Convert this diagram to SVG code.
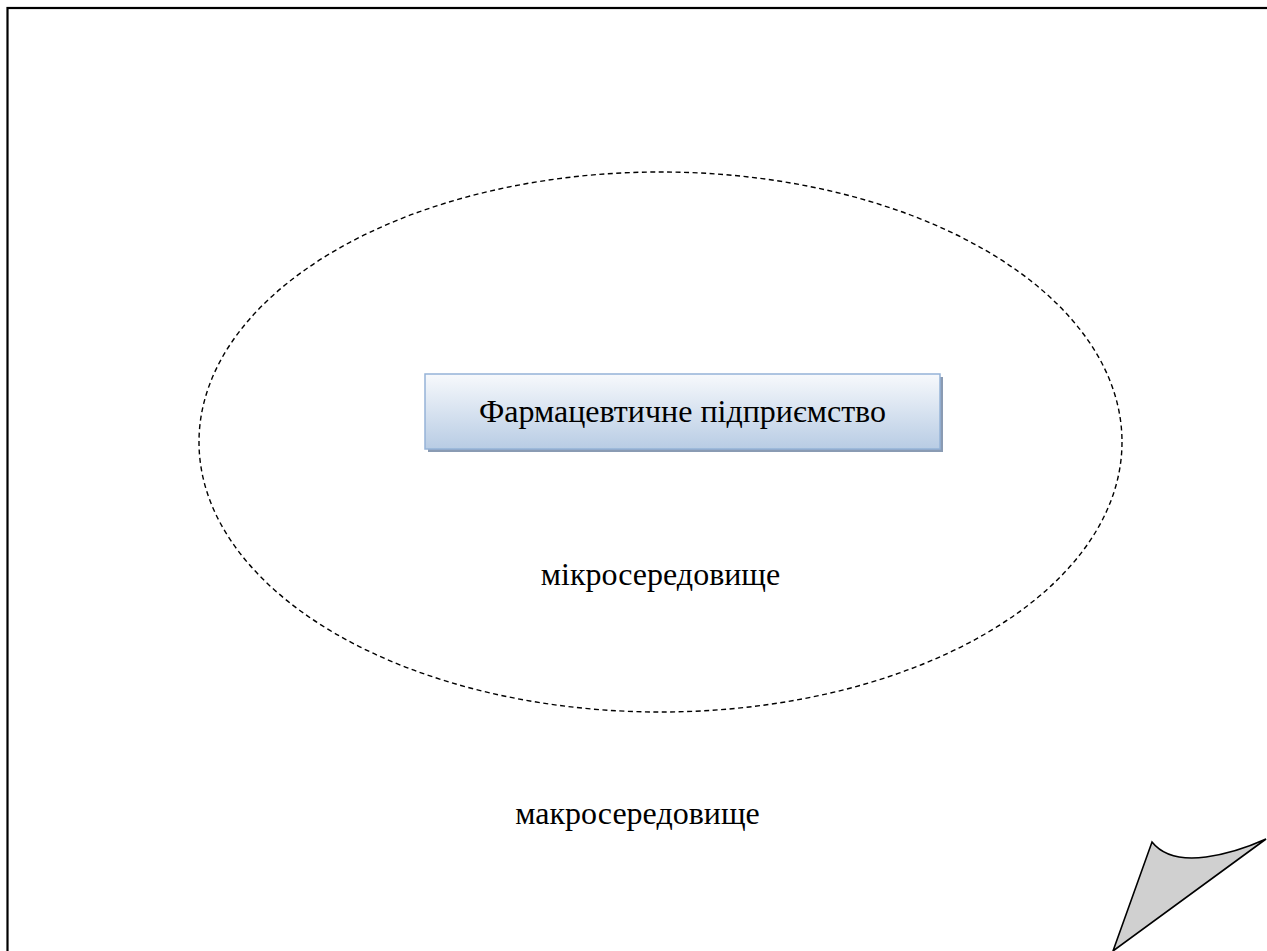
<svg xmlns="http://www.w3.org/2000/svg" width="1267" height="951" viewBox="0 0 1267 951">
  <style>
    .lbl { font-family: "Liberation Serif", "DejaVu Serif", "Times New Roman", serif; fill: #000; text-anchor: middle; font-size: 32px; }
    .frame { fill: none; stroke: #000; stroke-width: 2.2; }
    .micro { fill: none; stroke: #000; stroke-width: 1.4; stroke-dasharray: 5 3.5; }
    .box { fill: url(#boxFill); stroke: #95b3d7; stroke-width: 1.5; }
    .shadow { fill: #8a9bb3; }
    .curl { fill: #d0d0d0; stroke: #000; stroke-width: 1.6; stroke-linejoin: miter; }
  </style>
  <defs>
    <linearGradient id="boxFill" x1="0" y1="0" x2="0" y2="1">
      <stop offset="0" stop-color="#f7f9fc"/>
      <stop offset="1" stop-color="#b8cce4"/>
    </linearGradient>
  </defs>

  <rect width="1267" height="951" fill="#fff"/>

  <!-- outer environment frame -->
  <g id="macro">
    <rect class="frame" x="7.5" y="8" width="1300" height="1000"/>
    <text class="lbl" x="637.5" y="824">макросередовище</text>
  </g>

  <!-- inner environment -->
  <g id="micro">
    <ellipse class="micro" cx="660.5" cy="442" rx="461.5" ry="270"/>
    <text class="lbl" x="660.5" y="585">мікросередовище</text>
  </g>

  <!-- the enterprise -->
  <g id="enterprise">
    <rect class="shadow" x="428" y="377" width="515" height="75"/>
    <rect class="box" x="425" y="374" width="515" height="75"/>
    <text class="lbl" x="682.5" y="422">Фармацевтичне підприємство</text>
  </g>

  <!-- turned page corner -->
  <g id="corner">
    <path class="curl" d="M1152,842 Q1168,862 1206,857 Q1235,853 1266,839 L1113,951 Z"/>
  </g>
</svg>
